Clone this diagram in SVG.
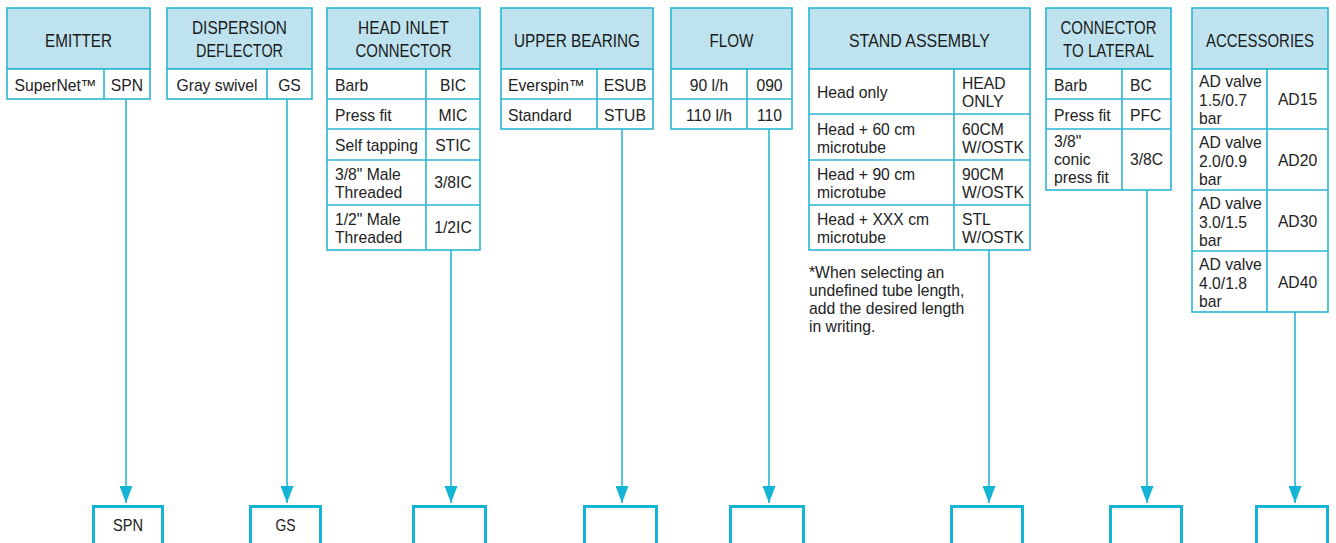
<svg xmlns="http://www.w3.org/2000/svg" width="1336" height="543" viewBox="0 0 1336 543">
<style>
.hd{fill:#bee3ee;stroke:#2ab6d4;stroke-width:1.6}
.cell{fill:#ffffff;stroke:#2ab6d4;stroke-width:1.6}
.ln{stroke:#2ab6d4;stroke-width:1.6;fill:none}
.ht{font-family:"Liberation Sans Narrow","Liberation Sans",Arial,sans-serif;font-size:18px;fill:#1a1a1a;text-anchor:middle}
.t{font-family:"Liberation Sans",Arial,sans-serif;font-size:15.7px;fill:#222222}
.c{text-anchor:middle}
.bt{font-family:"Liberation Sans Narrow","Liberation Sans",Arial,sans-serif;font-size:16.5px;fill:#1a1a1a;text-anchor:middle}
.box{fill:#ffffff;stroke:#14b4d4;stroke-width:3}
</style>
<defs>
<marker id="arrd" markerUnits="userSpaceOnUse" markerWidth="17" markerHeight="13" refX="17" refY="6.5" orient="auto" viewBox="0 0 17 13">
<path d="M0,0 L17,6.5 L0,13 Z" fill="#14b4d4"/>
</marker>
</defs>

<g id="connectors">
<line class="ln" x1="126" y1="99" x2="126" y2="503" marker-end="url(#arrd)"/>
<line class="ln" x1="287" y1="99" x2="287" y2="503" marker-end="url(#arrd)"/>
<line class="ln" x1="451" y1="250" x2="451" y2="503" marker-end="url(#arrd)"/>
<line class="ln" x1="622" y1="129" x2="622" y2="503" marker-end="url(#arrd)"/>
<line class="ln" x1="769" y1="129" x2="769" y2="503" marker-end="url(#arrd)"/>
<line class="ln" x1="989" y1="250" x2="989" y2="503" marker-end="url(#arrd)"/>
<line class="ln" x1="1147" y1="190" x2="1147" y2="503" marker-end="url(#arrd)"/>
<line class="ln" x1="1295" y1="312" x2="1295" y2="503" marker-end="url(#arrd)"/>
</g>

<g id="emitter">
<rect class="hd" x="7" y="8" width="143" height="61"/>
<rect class="cell" x="7" y="69" width="143" height="30"/>
<line class="ln" x1="104" y1="69" x2="104" y2="99"/>
<text class="ht" x="78.5" y="46.5" textLength="67" lengthAdjust="spacingAndGlyphs">EMITTER</text>
<text class="t c" x="55.5" y="90.5">SuperNet™</text>
<text class="t c" x="127" y="90.5">SPN</text>
</g>

<g id="dispersion-deflector">
<rect class="hd" x="167" y="8" width="145" height="61"/>
<rect class="cell" x="167" y="69" width="145" height="30"/>
<line class="ln" x1="267" y1="69" x2="267" y2="99"/>
<text class="ht" x="239.5" y="34" textLength="95" lengthAdjust="spacingAndGlyphs">DISPERSION</text>
<text class="ht" x="239.5" y="57" textLength="87" lengthAdjust="spacingAndGlyphs">DEFLECTOR</text>
<text class="t c" x="217" y="90.5">Gray swivel</text>
<text class="t c" x="289.5" y="90.5">GS</text>
</g>

<g id="head-inlet-connector">
<rect class="hd" x="327" y="8" width="153" height="61"/>
<rect class="cell" x="327" y="69" width="153" height="181"/>
<line class="ln" x1="327" y1="99" x2="480" y2="99"/>
<line class="ln" x1="327" y1="129" x2="480" y2="129"/>
<line class="ln" x1="327" y1="160" x2="480" y2="160"/>
<line class="ln" x1="327" y1="205" x2="480" y2="205"/>
<line class="ln" x1="426" y1="69" x2="426" y2="250"/>
<text class="ht" x="403.5" y="34" textLength="91" lengthAdjust="spacingAndGlyphs">HEAD INLET</text>
<text class="ht" x="403.5" y="57" textLength="96" lengthAdjust="spacingAndGlyphs">CONNECTOR</text>
<text class="t" x="335" y="90.5">Barb</text>
<text class="t" x="335" y="120.5">Press fit</text>
<text class="t" x="335" y="151">Self tapping</text>
<text class="t" x="335" y="180">3/8" Male</text>
<text class="t" x="335" y="198">Threaded</text>
<text class="t" x="335" y="225">1/2" Male</text>
<text class="t" x="335" y="243">Threaded</text>
<text class="t c" x="453" y="90.5">BIC</text>
<text class="t c" x="453" y="120.5">MIC</text>
<text class="t c" x="453" y="151">STIC</text>
<text class="t c" x="453" y="188">3/8IC</text>
<text class="t c" x="453" y="233">1/2IC</text>
</g>

<g id="upper-bearing">
<rect class="hd" x="501" y="8" width="152" height="61"/>
<rect class="cell" x="501" y="69" width="152" height="60"/>
<line class="ln" x1="501" y1="99" x2="653" y2="99"/>
<line class="ln" x1="597" y1="69" x2="597" y2="129"/>
<text class="ht" x="577" y="46.5" textLength="126" lengthAdjust="spacingAndGlyphs">UPPER BEARING</text>
<text class="t" x="508" y="90.5">Everspin™</text>
<text class="t" x="508" y="120.5">Standard</text>
<text class="t c" x="625" y="90.5">ESUB</text>
<text class="t c" x="625" y="120.5">STUB</text>
</g>

<g id="flow">
<rect class="hd" x="671" y="8" width="121" height="61"/>
<rect class="cell" x="671" y="69" width="121" height="60"/>
<line class="ln" x1="671" y1="99" x2="792" y2="99"/>
<line class="ln" x1="747" y1="69" x2="747" y2="129"/>
<text class="ht" x="731.5" y="46.5" textLength="44" lengthAdjust="spacingAndGlyphs">FLOW</text>
<text class="t c" x="709" y="90.5">90 l/h</text>
<text class="t c" x="709" y="120.5">110 l/h</text>
<text class="t c" x="769.5" y="90.5">090</text>
<text class="t c" x="769.5" y="120.5">110</text>
</g>

<g id="stand-assembly">
<rect class="hd" x="809" y="8" width="221" height="61"/>
<rect class="cell" x="809" y="69" width="221" height="181"/>
<line class="ln" x1="809" y1="114" x2="1030" y2="114"/>
<line class="ln" x1="809" y1="160" x2="1030" y2="160"/>
<line class="ln" x1="809" y1="205" x2="1030" y2="205"/>
<line class="ln" x1="954" y1="69" x2="954" y2="250"/>
<text class="ht" x="919.5" y="46.5" textLength="141" lengthAdjust="spacingAndGlyphs">STAND ASSEMBLY</text>
<text class="t" x="817" y="97.5">Head only</text>
<text class="t" x="817" y="135">Head + 60 cm</text>
<text class="t" x="817" y="153">microtube</text>
<text class="t" x="817" y="180">Head + 90 cm</text>
<text class="t" x="817" y="198">microtube</text>
<text class="t" x="817" y="225">Head + XXX cm</text>
<text class="t" x="817" y="243">microtube</text>
<text class="t" x="962" y="88.5">HEAD</text>
<text class="t" x="962" y="107">ONLY</text>
<text class="t" x="962" y="135">60CM</text>
<text class="t" x="962" y="153">W/OSTK</text>
<text class="t" x="962" y="180">90CM</text>
<text class="t" x="962" y="198">W/OSTK</text>
<text class="t" x="962" y="225">STL</text>
<text class="t" x="962" y="243">W/OSTK</text>
<text class="t" x="809" y="278">*When selecting an</text>
<text class="t" x="809" y="296">undefined tube length,</text>
<text class="t" x="809" y="314">add the desired length</text>
<text class="t" x="809" y="332">in writing.</text>
</g>

<g id="connector-to-lateral">
<rect class="hd" x="1046" y="8" width="125" height="61"/>
<rect class="cell" x="1046" y="69" width="125" height="121"/>
<line class="ln" x1="1046" y1="99" x2="1171" y2="99"/>
<line class="ln" x1="1046" y1="129" x2="1171" y2="129"/>
<line class="ln" x1="1122" y1="69" x2="1122" y2="190"/>
<text class="ht" x="1108.5" y="34" textLength="96" lengthAdjust="spacingAndGlyphs">CONNECTOR</text>
<text class="ht" x="1108.5" y="57" textLength="91" lengthAdjust="spacingAndGlyphs">TO LATERAL</text>
<text class="t" x="1054" y="90.5">Barb</text>
<text class="t" x="1054" y="120.5">Press fit</text>
<text class="t" x="1054" y="147">3/8"</text>
<text class="t" x="1054" y="165">conic</text>
<text class="t" x="1054" y="183">press fit</text>
<text class="t" x="1130" y="90.5">BC</text>
<text class="t" x="1130" y="120.5">PFC</text>
<text class="t" x="1130" y="165">3/8C</text>
</g>

<g id="accessories">
<rect class="hd" x="1192" y="8" width="136" height="61"/>
<rect class="cell" x="1192" y="69" width="136" height="243"/>
<line class="ln" x1="1192" y1="129" x2="1328" y2="129"/>
<line class="ln" x1="1192" y1="190" x2="1328" y2="190"/>
<line class="ln" x1="1192" y1="251" x2="1328" y2="251"/>
<line class="ln" x1="1267" y1="69" x2="1267" y2="312"/>
<text class="ht" x="1260" y="46.5" textLength="108" lengthAdjust="spacingAndGlyphs">ACCESSORIES</text>
<text class="t" x="1199" y="87">AD valve</text>
<text class="t" x="1199" y="105.5">1.5/0.7</text>
<text class="t" x="1199" y="124">bar</text>
<text class="t" x="1199" y="148">AD valve</text>
<text class="t" x="1199" y="166.5">2.0/0.9</text>
<text class="t" x="1199" y="185">bar</text>
<text class="t" x="1199" y="209">AD valve</text>
<text class="t" x="1199" y="227.5">3.0/1.5</text>
<text class="t" x="1199" y="246">bar</text>
<text class="t" x="1199" y="270">AD valve</text>
<text class="t" x="1199" y="288.5">4.0/1.8</text>
<text class="t" x="1199" y="307">bar</text>
<text class="t c" x="1297.5" y="104.5">AD15</text>
<text class="t c" x="1297.5" y="165.5">AD20</text>
<text class="t c" x="1297.5" y="226.5">AD30</text>
<text class="t c" x="1297.5" y="287.5">AD40</text>
</g>

<g id="code-boxes">
<g id="box-spn"><rect class="box" x="93.5" y="506.5" width="69" height="60"/><text class="bt" x="128" y="531" textLength="30" lengthAdjust="spacingAndGlyphs">SPN</text></g>
<g id="box-gs"><rect class="box" x="250.5" y="506.5" width="70" height="60"/><text class="bt" x="285.5" y="531" textLength="20" lengthAdjust="spacingAndGlyphs">GS</text></g>
<g id="box-3"><rect class="box" x="413.5" y="506.5" width="72" height="60"/></g>
<g id="box-4"><rect class="box" x="584.5" y="506.5" width="72" height="60"/></g>
<g id="box-5"><rect class="box" x="730.5" y="506.5" width="73" height="60"/></g>
<g id="box-6"><rect class="box" x="951.5" y="506.5" width="71" height="60"/></g>
<g id="box-7"><rect class="box" x="1110.5" y="506.5" width="71" height="60"/></g>
<g id="box-8"><rect class="box" x="1256.5" y="506.5" width="71" height="60"/></g>
</g>
</svg>
